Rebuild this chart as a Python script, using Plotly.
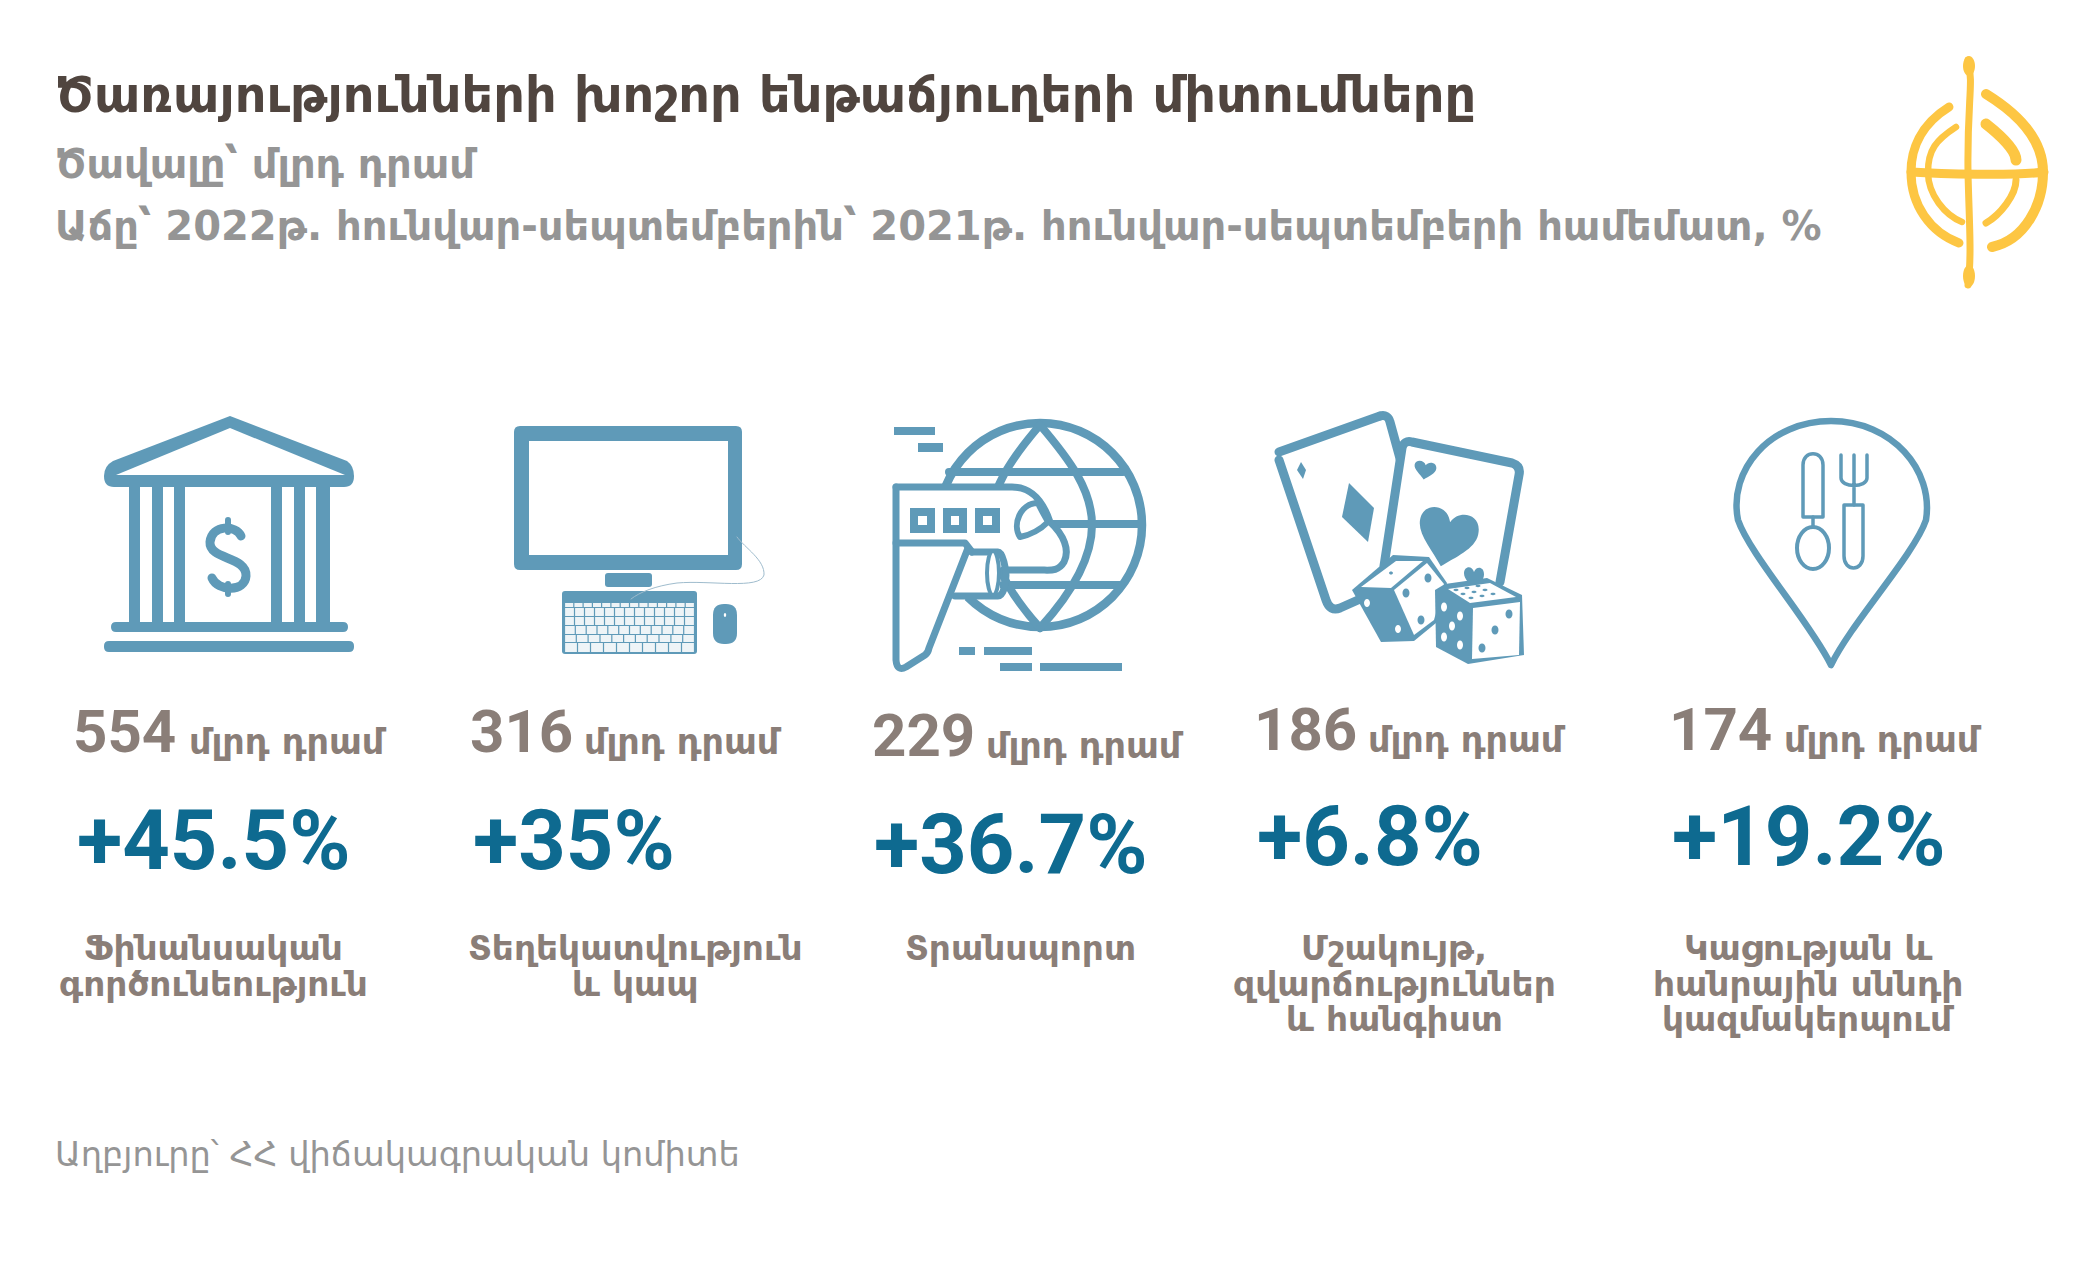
import math
import plotly.graph_objects as go

# ---------- chart content ----------
TITLE = "Ծառայությունների խոշոր ենթաճյուղերի միտումները"
SUB1 = "Ծավալը՝ մլրդ դրամ"
SUB2 = "Աճը՝ 2022թ. հունվար-սեպտեմբերին՝ 2021թ. հունվար-սեպտեմբերի համեմատ, %"
SOURCE = "Աղբյուրը՝ ՀՀ վիճակագրական կոմիտե"
UNIT = "մլրդ դրամ"
volumes = [554, 316, 229, 186, 174]
growth = ["+45.5%", "+35%", "+36.7%", "+6.8%", "+19.2%"]
categories = [
    ["Ֆինանսական", "գործունեություն"],
    ["Տեղեկատվություն", "և կապ"],
    ["Տրանսպորտ"],
    ["Մշակույթ,", "զվարճություններ", "և հանգիստ"],
    ["Կացության և", "հանրային սննդի", "կազմակերպում"],
]

# ---------- layout of the blocks (pixels) ----------
W, H = 2098, 1268
val_x = [75, 472, 874, 1256, 1671]
unit_x = [189, 584, 986, 1368, 1784]
val_base = [753, 753, 757, 751, 751]
gr_x = [80, 476, 877, 1260, 1675]
gr_base = [872, 872, 876, 868, 868]
cat_x = [213, 635, 1020, 1394, 1808]
cat_base = [957, 993, 1028]

ARM = "DejaVu Sans"
NUM = "Roboto"
BROWN = "#50453f"
GREY = "#959595"
TAUPE = "#8a7e78"
DEEP = "#0e6a90"
ICON = "#5f9ab8"
GOLD = "#fdc643"

fig = go.Figure()
ann = []


def text(x, base, s, size, color, family=ARM, weight=400, anchor="left", k=0.36):
    ann.append(dict(
        x=x, y=base - k * size, xref="x", yref="y", text=s, showarrow=False,
        xanchor=anchor, yanchor="middle", borderpad=0, borderwidth=0,
        font=dict(family=family, size=size, color=color, weight=weight),
    ))


text(55, 113, TITLE, 49.4, BROWN, weight=700)
text(55, 178, SUB1, 40, GREY, weight=700)
text(55, 240, SUB2, 40, GREY, weight=700)
text(55, 1167, SOURCE, 33.6, GREY)

for i in range(5):
    text(val_x[i] - 2, val_base[i], str(volumes[i]), 60, TAUPE, NUM, 700)
    text(unit_x[i], val_base[i] + 2, UNIT, 35, TAUPE, weight=700)
    text(gr_x[i] - 3, gr_base[i] - 2, growth[i], 83, DEEP, NUM, 700)
    for j, line in enumerate(categories[i]):
        text(cat_x[i], cat_base[j] + 3, line, 34.4, TAUPE, weight=700, anchor="center")

# ---------- icons ----------
shapes = []


def fill(path, color=ICON):
    shapes.append(dict(type="path", path=path, xref="x", yref="y", fillcolor=color,
                       line=dict(width=0), layer="above"))


def stroke(path, width, color=ICON, bg=None):
    shapes.append(dict(type="path", path=path, xref="x", yref="y",
                       fillcolor=bg if bg else "rgba(0,0,0,0)",
                       line=dict(width=width, color=color), layer="above"))


def rr(x0, y0, x1, y1, r=0):
    if r == 0:
        return f"M{x0},{y0}L{x1},{y0}L{x1},{y1}L{x0},{y1}Z"
    return (f"M{x0+r},{y0}L{x1-r},{y0}Q{x1},{y0} {x1},{y0+r}L{x1},{y1-r}Q{x1},{y1} {x1-r},{y1}"
            f"L{x0+r},{y1}Q{x0},{y1} {x0},{y1-r}L{x0},{y0+r}Q{x0},{y0} {x0+r},{y0}Z")


def ell(cx, cy, rx, ry):
    k = 0.5523
    return (f"M{cx-rx},{cy}C{cx-rx},{cy-k*ry} {cx-k*rx},{cy-ry} {cx},{cy-ry}"
            f"C{cx+k*rx},{cy-ry} {cx+rx},{cy-k*ry} {cx+rx},{cy}"
            f"C{cx+rx},{cy+k*ry} {cx+k*rx},{cy+ry} {cx},{cy+ry}"
            f"C{cx-k*rx},{cy+ry} {cx-rx},{cy+k*ry} {cx-rx},{cy}Z")


def poly(pts):
    return "M" + "L".join(f"{x},{y}" for x, y in pts) + "Z"


def heart(cx, cy, w, h, deg=0):
    a = math.radians(deg)
    pts = [(0, .5), (-.2, .25), (-.5, .05), (-.5, -.2), (-.5, -.5), (-.1, -.55), (0, -.25),
           (.1, -.5), (.5, -.5), (.5, -.15), (.5, .1), (.2, .3), (0, .5)]

    def t(p):
        x, y = p[0] * w, p[1] * h
        return f"{cx + x*math.cos(a) - y*math.sin(a):.1f},{cy + x*math.sin(a) + y*math.cos(a):.1f}"
    s = "M" + t(pts[0])
    for i in range(1, len(pts), 3):
        s += f"C{t(pts[i])} {t(pts[i+1])} {t(pts[i+2])}"
    return s + "Z"


# bank
fill("M104,476Q104,466 113,461L230,416L347,461Q354,466 354,476Q354,487 344,487L114,487Q104,487 104,476Z")
fill("M116,475L230,428L345,475Z", "#ffffff")
for a, b in [(129, 140), (152, 163), (174, 185), (271, 282), (294, 305), (316, 330)]:
    fill(rr(a, 486, b, 624))
fill(rr(111, 622, 348, 632, 5))
fill(rr(104, 641, 354, 652, 5))
stroke("M241,536C236,525 212,524 210,542C209,560 247,556 246,576C245,592 218,592 212,578", 9)
stroke("M228,520L228,532M228,584L228,594", 6)

# computer
fill(rr(514, 426, 742, 570, 6))
fill(rr(529, 441, 728, 555), "#ffffff")
fill(rr(605, 573, 652, 587, 3))
fill(rr(562, 591, 697, 654, 3))
rows = [(603, 607, 14), (608, 616, 13), (617, 625, 13), (626, 634, 12), (635, 642, 11), (643, 652, 10)]
for y0, y1, n in rows:
    step = 130 / n
    for k in range(n):
        x0 = 564.5 + k * step
        fill(rr(round(x0 + .6, 1), y0, round(x0 + step - .6, 1), y1), "#eef4f7")
fill(rr(713, 604, 737, 644, 11))
fill(ell(725, 615, 1.2, 2), "#ffffff")
stroke("M737,537C745,548 765,560 764,575C760,590 710,580 677,583C655,586 640,592 631,599", 1, "#9fbccd")

# transport: globe with a plane in front
stroke(ell(1040, 525, 102, 102), 8.5)
stroke("M1040,425C1010,460 990,490 990,525C990,560 1010,595 1040,628", 8)
stroke("M1040,425C1070,460 1092,490 1092,525C1092,560 1070,595 1040,628", 8)
stroke("M949,472L1123,472", 8)
stroke("M1000,524L1142,524", 8)
stroke("M1003,585L1121,585", 8)
plane = ("M895,487L1012,487C1030,487 1042,498 1050,522C1064,535 1070,550 1064,562C1058,572 1050,570 1040,570"
         "L1000,570L1000,598L966,598L932,655L904,668Q897,672 897,660Z")
fill(plane, "#ffffff")
stroke("M896,487L1012,487C1030,487 1042,498 1050,522C1064,535 1070,550 1064,562C1058,572 1050,570 1040,570L1003,570", 7)
stroke("M896,487L896,660Q897,672 906,667L925,655Q928,653 929,648L968,548", 7)
stroke("M896,543L965,543L972,552", 7)
stroke("M972,552L998,552C1003,552 1006,570 1006,575C1006,585 1003,596 998,596L955,596", 7)
stroke(ell(993, 573, 6, 22), 4, ICON, "#ffffff")
stroke("M1020,537C1012,525 1020,503 1038,503C1042,512 1046,518 1048,522C1040,530 1030,535 1020,537Z", 6, ICON, "#ffffff")
for x0, x1 in [(910, 935), (943, 967), (975, 1000)]:
    fill(rr(x0, 508, x1, 533))
    fill(rr(x0 + 8, 516, x1 - 8, 525), "#ffffff")
for x0, y0, x1, y1 in [(894, 427, 935, 435), (918, 443, 943, 452), (959, 647, 975, 655),
                       (984, 647, 1032, 655), (1000, 663, 1032, 671), (1040, 663, 1122, 671)]:
    fill(rr(x0, y0, x1, y1))

# cards and dice
stroke("M1380,416Q1388,414 1390,422L1401,462", 9)
stroke("M1279,452L1380,416", 9)
stroke("M1279,460L1326,600Q1330,612 1340,608L1358,600", 9)
fill(poly([(1297, 470), (1301, 462), (1306, 470), (1303, 479)]))
fill(poly([(1349, 483), (1374, 508), (1368, 542), (1342, 517)]))
stroke("M1384,566L1402,448Q1404,440 1412,442L1512,463Q1521,466 1519,475L1500,582", 9, ICON, "#ffffff")
fill(heart(1425, 470, 22, 19, 8))
fill(heart(1447, 537, 60, 60, 12))
fill(poly([(1352, 590), (1393, 555), (1429, 557), (1447, 583), (1436, 623), (1414, 641), (1381, 642)]))
fill(poly([(1361, 587), (1396, 561), (1423, 561), (1391, 588)]), "#ffffff")
fill(poly([(1394, 590), (1427, 563), (1444, 584), (1434, 620), (1414, 635)]), "#ffffff")
for x, y in [(1367, 603), (1398, 629)]:
    fill(ell(x, y, 3, 4), "#ffffff")
for x, y in [(1428, 578), (1406, 593), (1421, 620)]:
    fill(ell(x, y, 3.5, 4.5))
fill(ell(1391, 573, 2, 1.5))
fill(heart(1474, 578, 20, 24, 0))
fill(poly([(1435, 590), (1445, 584), (1487, 578), (1522, 595), (1524, 655), (1468, 664), (1436, 647)]))
fill(poly([(1448, 589), (1490, 583), (1516, 597), (1470, 603)]), "#ffffff")
fill(poly([(1473, 608), (1520, 602), (1519, 655), (1472, 659)]), "#ffffff")
for x, y in [(1509, 614), (1495, 630), (1482, 648)]:
    fill(ell(x, y, 3.5, 4.5))
for x, y in [(1444, 607), (1460, 616), (1452, 626), (1444, 637), (1460, 645)]:
    fill(ell(x, y, 3, 4.5), "#ffffff")
for x, y in [(1456, 590), (1467, 588), (1478, 586), (1463, 594), (1474, 592), (1485, 590),
             (1471, 598), (1482, 596), (1493, 594)]:
    fill(ell(x, y, 2.5, 1.2))

# restaurant pin
stroke("M1831,665C1810,622 1750,555 1738,520C1728,470 1770,421 1831,421"
       "C1892,421 1934,470 1926,520C1914,555 1852,622 1831,665Z", 6.5)
stroke("M1803,517L1803,465C1803,450 1823,450 1823,465L1823,517Z", 3.5)
stroke("M1813,517L1813,527", 3.5)
stroke(ell(1813, 548, 16, 21), 4)
stroke("M1841,455L1841,478C1841,488 1867,488 1867,478L1867,455M1854,455L1854,505", 3.5)
stroke("M1844,505L1863,505L1863,556C1863,572 1844,572 1844,556Z", 3.5)

# logo
stroke("M1968,60C1974,85 1967,100 1968,172C1969,220 1972,255 1968,285", 7, GOLD)
fill(ell(1969, 66, 6, 10), GOLD)
fill(ell(1969, 276, 6, 11), GOLD)
stroke("M1949,107C1920,125 1911,150 1911,172C1911,205 1930,232 1959,243", 9, GOLD)
stroke("M1986,94C2025,118 2043,145 2043,172C2043,205 2025,240 1992,247", 10, GOLD)
stroke("M1956,127C1936,140 1928,150 1928,172C1928,195 1945,215 1962,222", 6.5, GOLD)
stroke("M1986,124C2000,135 2016,150 2016,160", 11, GOLD)
stroke("M2016,180C2016,195 2000,215 1986,223", 7, GOLD)
stroke("M1911,172C1940,174 2015,176 2044,172", 9, GOLD)

fig.add_trace(go.Scatter(x=[], y=[], showlegend=False))
fig.update_layout(
    width=W, height=H, margin=dict(l=0, r=0, t=0, b=0),
    paper_bgcolor="white", plot_bgcolor="white", showlegend=False,
    xaxis=dict(range=[0, W], visible=False, fixedrange=True),
    yaxis=dict(range=[H, 0], visible=False, fixedrange=True),
    shapes=shapes, annotations=ann,
)
post = ("document.body.style.margin='0';document.body.style.overflow='hidden';"
        "document.querySelectorAll('.shapelayer path').forEach(function(p){"
        "p.style.strokeLinecap='round';p.style.strokeLinejoin='round';});")
fig.write_html("out.html", post_script=post, config={"displayModeBar": False})
